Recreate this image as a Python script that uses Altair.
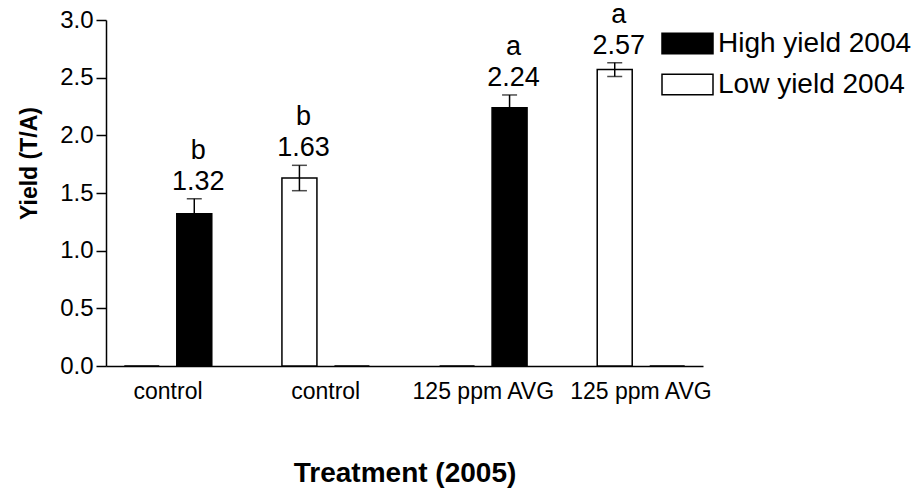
import json
import altair as alt
import pandas as pd

# ---- data ----
groups = ["control", "control", "125 ppm AVG", "125 ppm AVG"]
series_names = ["High yield 2004", "Low yield 2004"]
high_yield = [1.32, 0.0, 2.24, 0.0]
low_yield = [0.0, 1.63, 0.0, 2.57]
high_err = [0.13, 0.0, 0.11, 0.0]
low_err = [0.0, 0.11, 0.0, 0.06]
high_letters = ["b", "", "a", ""]
low_letters = ["", "b", "", "a"]
y_ticks = [0.0, 0.5, 1.0, 1.5, 2.0, 2.5, 3.0]

rows = []
for i, g in enumerate(groups):
    for s, vals, errs, lets in [
        (series_names[0], high_yield, high_err, high_letters),
        (series_names[1], low_yield, low_err, low_letters),
    ]:
        rows.append({"gid": str(i), "series": s, "value": vals[i],
                     "err": errs[i], "letter": lets[i]})
df = pd.DataFrame(rows)

FONT = "Liberation Sans"
label_expr = json.dumps(groups) + "[toNumber(datum.value)]"

x_enc = alt.X(
    "gid:N",
    scale=alt.Scale(paddingInner=0.445, paddingOuter=0.116),
    axis=alt.Axis(
        labelExpr=label_expr, title="Treatment (2005)", ticks=False, tickSize=0,
        labelPadding=14, labelAngle=0, labelFontSize=23, labelFont=FONT,
        titleFontSize=28, titleFont=FONT, titleFontWeight="bold",
        titleBaseline="alphabetic", titleY=115,
    ),
)
xoff_enc = alt.XOffset(
    "series:N",
    scale=alt.Scale(domain=[series_names[1], series_names[0]],
                    paddingInner=1 / 3, paddingOuter=0),
)

y_scale = alt.Scale(domain=[0, 3], nice=False)
y_axis = alt.Axis(
    values=y_ticks, format=".1f", title="Yield (T/A)", grid=False,
    tickSize=10, labelPadding=3, labelFontSize=24, labelFont=FONT,
    titleFontSize=23, titleFont=FONT, titleFontWeight="bold",
    titleAngle=270, titleBaseline="alphabetic", titleAlign="center",
    titleX=-70, titleY=143,
)


def yenc(field):
    return alt.Y(field, scale=y_scale, axis=y_axis, title="Yield (T/A)")


base = alt.Chart(df).transform_calculate(
    hi="datum.value + datum.err",
    lo="datum.value - datum.err",
    label="format(datum.value, '.2f')",
)

bars = base.mark_bar(stroke="black", strokeWidth=1.5).encode(
    x=x_enc,
    xOffset=xoff_enc,
    y=yenc("value:Q"),
    fill=alt.Fill(
        "series:N",
        title=None,
        scale=alt.Scale(domain=series_names, range=["black", "white"]),
        legend=alt.Legend(
            orient="none", legendX=555, legendY=-3, padding=0,
            symbolType="M-1,-0.4 h2 v0.8 h-2 Z", symbolSize=2601,
            symbolStrokeColor="black", symbolStrokeWidth=1.5,
            labelFontSize=28, labelFont=FONT, labelColor="black",
            labelOffset=4, rowPadding=0, labelLimit=400,
        ),
    ),
)

nz = base.transform_filter("datum.value > 0")

err_rule = nz.mark_rule(color="black", strokeWidth=1.5).encode(
    x=x_enc, xOffset=xoff_enc, y=yenc("lo:Q"), y2="hi:Q",
)
cap_hi = nz.mark_tick(color="black", size=15, thickness=1.5).encode(
    x=x_enc, xOffset=xoff_enc, y=yenc("hi:Q"),
)
cap_lo = nz.mark_tick(color="black", size=15, thickness=1.5).encode(
    x=x_enc, xOffset=xoff_enc, y=yenc("lo:Q"),
)
num_text = nz.mark_text(fontSize=27, font=FONT, baseline="alphabetic",
                        dy=-9, dx=4, color="black").encode(
    x=x_enc, xOffset=xoff_enc, y=yenc("hi:Q"), text="label:N",
)
let_text = nz.mark_text(fontSize=27, font=FONT, baseline="alphabetic",
                        dy=-40, dx=4, color="black").encode(
    x=x_enc, xOffset=xoff_enc, y=yenc("hi:Q"), text="letter:N",
)

chart = alt.layer(bars, err_rule, cap_hi, cap_lo, num_text, let_text).properties(
    width=597, height=346,
    autosize=alt.AutoSizeParams(type="none"),
    padding={"left": 106, "top": 20, "right": 214, "bottom": 123},
    background="white",
).configure_axis(
    domainColor="black", domainWidth=1.5, tickColor="black", tickWidth=1.5,
    labelColor="black", titleColor="black",
).configure_view(strokeWidth=0)

chart.save("out.html", embed_options={"renderer": "svg", "actions": False})
